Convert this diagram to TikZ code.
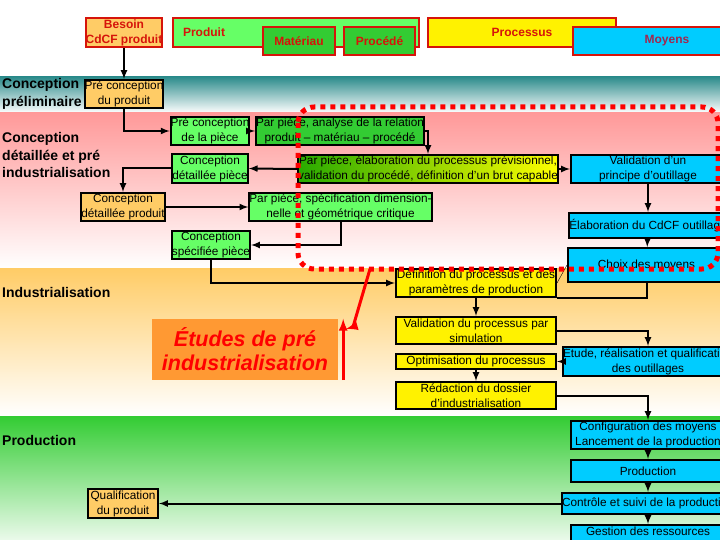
\documentclass[tikz,border=0pt]{standalone}
\usepackage{fontspec}
\setmainfont{Liberation Sans}
\usetikzlibrary{arrows}

\definecolor{peach}{RGB}{255,204,102}
\definecolor{lightgreen}{RGB}{102,255,102}
\definecolor{midgreen}{RGB}{51,204,51}
\definecolor{skyblue}{RGB}{0,204,255}
\definecolor{hdrred}{RGB}{214,20,10}
\definecolor{moyenred}{RGB}{160,40,80}
\definecolor{bandteal}{RGB}{45,140,140}
\definecolor{bandpink}{RGB}{255,153,153}
\definecolor{bandgreen}{RGB}{51,204,51}
\definecolor{etudeorange}{RGB}{255,153,51}
\definecolor{elabgreen}{RGB}{40,170,0}

\begin{document}
\begin{tikzpicture}[x=1pt, y=-1pt,
    stepbox/.style={draw, line width=2pt, inner sep=0pt, align=center, font=\fontsize{11.8}{15}\selectfont},
    hdrbox/.style={draw=hdrred, line width=2pt, inner sep=0pt, align=center, text=hdrred, font=\fontsize{12}{15}\selectfont\bfseries},
    rowlabel/.style={anchor=west, align=left, inner sep=0pt, font=\fontsize{14}{17.5}\selectfont\bfseries},
    conn/.style={line width=2pt, -latex},
    zone/.style={draw=red, line width=5pt, dash pattern=on 5pt off 5pt, rounded corners=16pt},
    redarrow/.style={red, line width=3pt, -latex}]
\clip (0,0) rectangle (720,540);

            %% bandes
            \fill[white] (0,0) rectangle (720,77);
            \shade[top color=bandteal, bottom color=white] (0,77) rectangle (720,113);
            \shade[top color=bandpink, bottom color=white] (0,113) rectangle (720,268);
            \shade[top color=peach, bottom color=white] (0,268) rectangle (720,416);
            \shade[top color=bandgreen, bottom color=bandgreen!10] (0,416) rectangle (720,540);

            %% en-tetes
            \node[hdrbox, fill=peach, minimum width=72, minimum height=29] at (124, 32.5) (besoin) {Besoin\\CdCF produit};
            \node[hdrbox, fill=lightgreen, minimum height=29, text width=226, inner xsep=10pt, align=left] at (296, 32.5) (produit) {Produit};
            \node[hdrbox, fill=midgreen, minimum width=72, minimum height=28] at (299, 41) (materiau) {Matériau};
            \node[hdrbox, fill=midgreen, minimum width=71, minimum height=28] at (379.5, 41) (procede) {Procédé};
            \node[hdrbox, fill=yellow, minimum width=188, minimum height=29] at (522, 32.5) (processus) {Processus};
            \node[hdrbox, fill=skyblue, text=moyenred, minimum width=188, minimum height=28] at (667, 41) (moyens) {Moyens};

            %% lignes
            \node[rowlabel] at (2, 94) (lprelim) {Conception\\préliminaire};
            \node[rowlabel] at (2, 155) (ldetail) {Conception\\détaillée et pré\\industrialisation};
            \node[rowlabel] at (2, 292) (lindus) {Industrialisation};
            \node[rowlabel] at (2, 440) (lprod) {Production};

            %% produit
            \node[stepbox, fill=peach, minimum width=70, minimum height=28] at (124, 94) (preprod) {Pré conception\\du produit};
            \node[stepbox, fill=peach, minimum width=70, minimum height=28] at (123, 207) (detprod) {Conception\\détaillée produit};
            \node[stepbox, fill=peach, minimum width=70, minimum height=29] at (123, 503.5) (qualif) {Qualification\\du produit};

            %% piece
            \node[stepbox, fill=lightgreen, minimum width=70, minimum height=28] at (210, 131) (prepiece) {Pré conception\\de la pièce};
            \node[stepbox, fill=midgreen, minimum width=158, minimum height=28] at (340, 131) (analyse) {Par pièce, analyse de la relation\\produit -- matériau -- procédé};
            \node[stepbox, left color=elabgreen, right color=yellow, minimum width=246, minimum height=28] at (428, 169) (elab) {Par pièce, élaboration du processus prévisionnel,\\validation du procédé, définition d'un brut capable};
            \node[stepbox, fill=lightgreen, minimum width=70, minimum height=29] at (210, 168.5) (detpiece) {Conception\\détaillée pièce};
            \node[stepbox, fill=lightgreen, minimum width=157, minimum height=28] at (340.5, 207) (spec) {Par pièce, spécification dimension-\\nelle et géométrique critique};
            \node[stepbox, fill=lightgreen, minimum width=70, minimum height=28] at (211, 245) (specpiece) {Conception\\spécifiée pièce};

            %% processus
            \node[stepbox, fill=yellow, minimum width=160, minimum height=28] at (476, 283) (defproc) {Définition du processus et des\\paramètres de production};
            \node[stepbox, fill=yellow, minimum width=160, minimum height=27] at (476, 330.5) (valproc) {Validation du processus par\\simulation};
            \node[stepbox, fill=yellow, minimum width=160, minimum height=15] at (476, 361.5) (optim) {Optimisation du processus};
            \node[stepbox, fill=yellow, minimum width=160, minimum height=27] at (476, 395.5) (redac) {Rédaction du dossier\\d'industrialisation};

            %% moyens
            \node[stepbox, fill=skyblue, minimum width=154, minimum height=28] at (648, 169) (valoutil) {Validation d'un\\principe d'outillage};
            \node[stepbox, fill=skyblue, minimum width=154, minimum height=25] at (648, 225.5) (elaboutil) {Élaboration du CdCF outillage};
            \node[stepbox, fill=skyblue, minimum width=157, minimum height=34] at (646.5, 265) (choix) {Choix des moyens};
            \node[stepbox, fill=skyblue, minimum width=154, minimum height=29] at (648, 361.5) (etude) {Étude, réalisation et qualification\\des outillages};
            \node[stepbox, fill=skyblue, minimum width=154, minimum height=28] at (648, 435) (config) {Configuration des moyens\\Lancement de la production};
            \node[stepbox, fill=skyblue, minimum width=154, minimum height=22] at (648, 471) (prod) {Production};
            \node[stepbox, fill=skyblue, minimum width=154, minimum height=21] at (648, 503.5) (controle) {Contrôle et suivi de la production};
            \node[stepbox, fill=skyblue, minimum width=154, text height=10.5pt, text depth=17.5pt, anchor=north] at (648, 524) (gestion) {Gestion des ressources};

            \node[fill=etudeorange, text=red, minimum width=186, minimum height=61, align=center, font=\fontsize{21.5}{24}\selectfont\bfseries\itshape] at (245, 349.5) (etudes) {Études de pré\\industrialisation};

            %% liaisons
            \draw[conn] (besoin) -- (preprod);
            \draw[conn] (preprod.south) |- (prepiece.west);
            \draw[conn] (prepiece) -- (analyse);
            \draw[conn] (analyse.east) -| (elab.north);
            \draw[conn] (elab.west) -- (detpiece.east);
            \draw[conn] (detpiece.west) -| (detprod.north);
            \draw[conn] (detprod) -- (spec);
            \draw[conn] (spec.south) |- (specpiece.east);
            \draw[conn] (specpiece.south) |- (defproc.west);
            \draw[conn] (elab.east) -- (valoutil.west);
            \draw[conn] (valoutil) -- (elaboutil);
            \draw[conn] (elaboutil) -- (choix);
            \draw[line width=2pt] (choix.south) |- (defproc.south east);
            \draw (defproc.east) -- (choix.west);
            \draw[conn] (defproc) -- (valproc);
            \draw[conn] (valproc.east) -| (etude.north);
            \draw[conn] (etude.west) -- (optim.east);
            \draw[conn] (optim) -- (redac);
            \draw[conn] (redac.east) -| (config.north);
            \draw[conn] (config) -- (prod);
            \draw[conn] (prod) -- (controle);
            \draw[conn] (controle) -- (gestion);
            \draw[conn] (controle.west) -- (qualif.east);

            %% zone pre industrialisation
            \draw[zone] (298,107) rectangle (718,269);
            \coordinate (zonebas) at (370,269);
            \draw[redarrow] ([xshift=5]etudes.south east) -- ([xshift=5]etudes.north east);
            \draw[redarrow] (zonebas) -- ++(-17,58) -- ++(-7,2);

      \end{tikzpicture}
\end{document}
